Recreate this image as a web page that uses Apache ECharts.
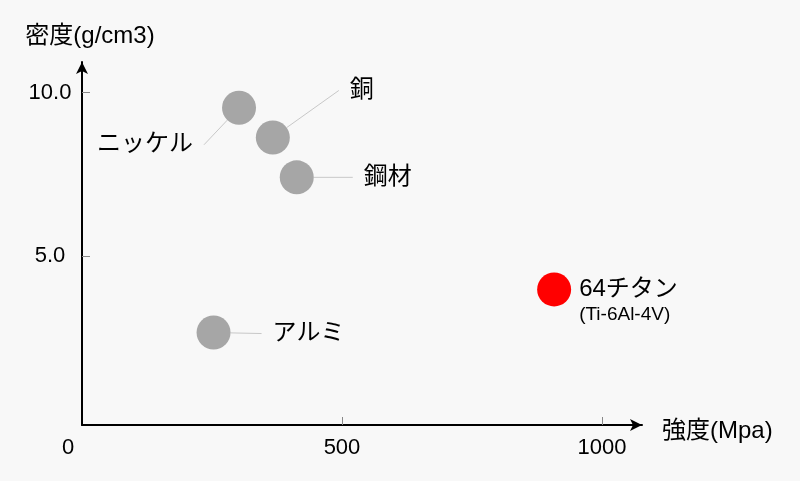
<!DOCTYPE html>
<html>
<head>
<meta charset="utf-8">
<script src="https://cdn.jsdelivr.net/npm/echarts@6/dist/echarts.min.js"></script>
<style>
html,body{margin:0;padding:0;background:#f8f8f8;}
#c{width:800px;height:481px;}
</style>
</head>
<body>
<div id="c"></div>
<script>
// ---- data ----
const materials = ['ニッケル', '銅', '鋼材', 'アルミ', '64チタン'];
const strength = [302, 367, 413, 253, 908];      // 強度 (Mpa)
const density  = [9.54, 8.63, 7.41, 2.66, 3.98]; // 密度 (g/cm3)
const subNames = ['', '', '', '', '(Ti-6Al-4V)'];
const xTicks = [0, 500, 1000];
const yTicks = [5, 10];

// ---- style ----
const FONT = '"Liberation Sans", "Noto Sans CJK JP", sans-serif';
const TXT = '#000';
const highlight = 4;
// label offsets (px) relative to the marker centre: styling only
const labelOffsets = [[-94, 37], [89, -47], [91, 0], [95, 1], [0, 11]];

const chart = echarts.init(document.getElementById('c'));

const data = materials.map((m, i) => {
  const item = {
    name: m,
    value: [strength[i], density[i]],
    itemStyle: { color: i === highlight ? '#ff0000' : '#a6a6a6', opacity: 1 }
  };
  if (i === highlight) {
    item.label = {
      show: true,
      position: 'right',
      distance: 8,
      align: 'left',
      padding: 0,
      backgroundColor: 'rgba(0,0,0,0)',
      formatter: '{a|' + m + '}\n{b|' + subNames[i] + '}',
      rich: {
        a: { fontSize: 24, fontFamily: FONT, color: TXT, lineHeight: 28 },
        b: { fontSize: 19, fontFamily: FONT, color: TXT, lineHeight: 22 }
      }
    };
    item.labelLine = { show: false };
  }
  return item;
});

chart.setOption({
  backgroundColor: '#f8f8f8',
  animation: false,
  textStyle: { fontFamily: FONT },
  grid: { left: 82, right: 158, top: 62, bottom: 56 },
  xAxis: {
    type: 'value',
    min: 0, max: 1077, interval: 500,
    name: '強度(Mpa)',
    nameLocation: 'end',
    nameGap: 20,
    nameTextStyle: { fontSize: 24, color: TXT, fontFamily: FONT, verticalAlign: 'top', lineHeight: 12 },
    axisLine: { show: true, onZero: false, lineStyle: { color: '#000', width: 2 }, symbol: ['none', 'arrow'], symbolSize: [9, 12] },
    axisTick: { show: true, inside: true, length: 8, lineStyle: { color: '#888' }, customValues: [500, 1000] },
    axisLabel: {
      customValues: xTicks,
      fontSize: 22, color: TXT, margin: 12, fontFamily: FONT,
      formatter: v => v === 0 ? '{o|0}' : String(v),
      rich: { o: { fontSize: 22, color: TXT, fontFamily: FONT, padding: [0, 28, 0, 0] } }
    },
    splitLine: { show: false }
  },
  yAxis: {
    type: 'value',
    min: -0.17, max: 10.94,
    name: '密度(g/cm3)',
    nameLocation: 'end',
    nameGap: 14,
    nameTextStyle: { fontSize: 24, color: TXT, fontFamily: FONT, align: 'center', padding: [0, 0, 0, 16] },
    axisLine: { show: true, onZero: false, lineStyle: { color: '#000', width: 2 }, symbol: ['none', 'arrow'], symbolSize: [9, 12] },
    axisTick: { show: true, inside: true, length: 8, lineStyle: { color: '#888' }, customValues: yTicks },
    axisLabel: {
      customValues: yTicks,
      fontSize: 22, color: TXT, margin: 32, align: 'center', fontFamily: FONT,
      formatter: v => v.toFixed(1)
    },
    splitLine: { show: false }
  },
  series: [{
    type: 'scatter',
    symbolSize: 34,
    data: data,
    itemStyle: { opacity: 1 },
    label: {
      show: true,
      position: 'inside',
      formatter: '{b}',
      fontSize: 24,
      color: TXT,
      fontFamily: FONT,
      padding: [2, 11],
      backgroundColor: 'rgba(0,0,0,0)'
    },
    labelLine: { show: true, lineStyle: { color: '#c8c8c8', width: 1 } },
    labelLayout: function (p) {
      const o = labelOffsets[p.dataIndex];
      return { dx: o[0], dy: o[1] };
    },
    emphasis: { disabled: true }
  }]
});
</script>
</body>
</html>
